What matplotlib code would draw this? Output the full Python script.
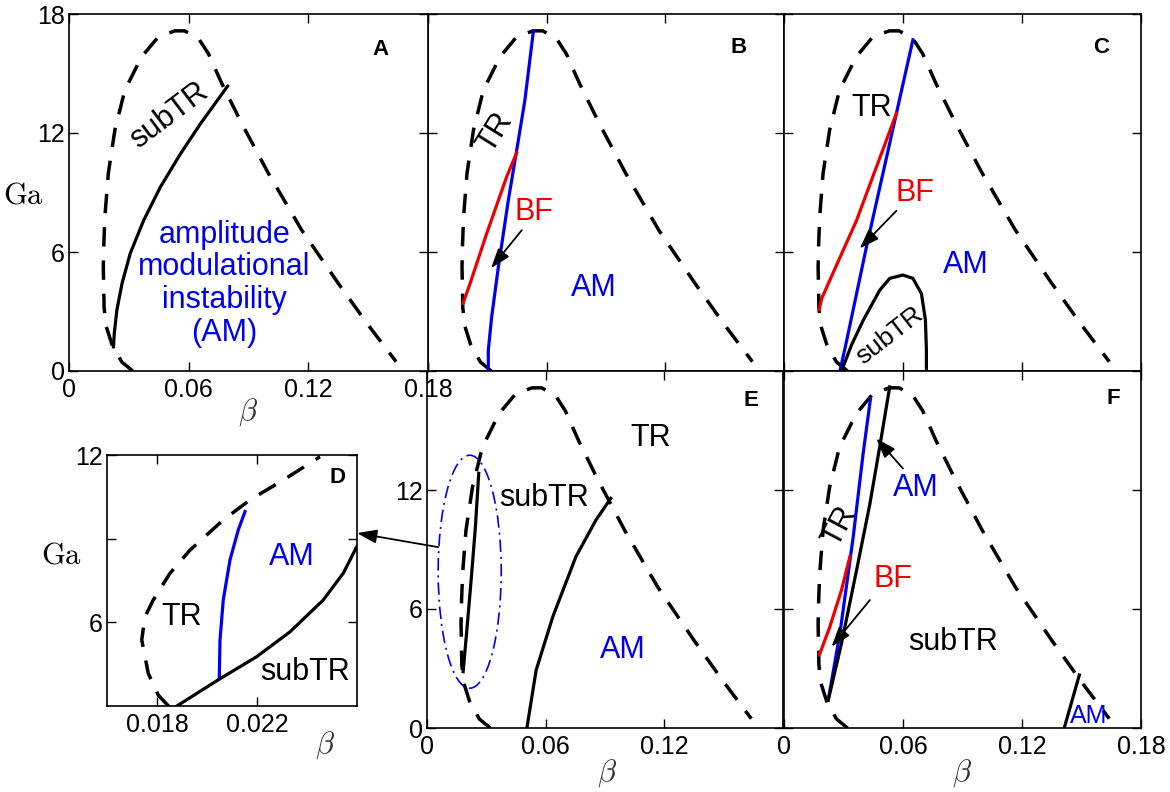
import matplotlib
matplotlib.use("Agg")
import matplotlib.pyplot as plt
from matplotlib.patches import Ellipse

# ---------------- data ----------------
# shared TR boundary (dashed)
tr_beta = [0.032, 0.0265, 0.0215, 0.0185, 0.0176, 0.0172, 0.0175, 0.018, 0.0197, 0.023, 0.028,
           0.0364, 0.0448, 0.0531, 0.058, 0.0649, 0.0699, 0.0766, 0.0866, 0.100, 0.1167, 0.135, 0.150, 0.164]
tr_ga = [0.0, 0.45, 1.35, 2.3, 3.2, 5.26, 6.5, 7.78, 9.96, 12.15, 14.16,
         15.84, 16.85, 17.15, 17.15, 16.77, 16.0, 14.5, 12.48, 9.96, 7.1, 4.42, 2.32, 0.47]

# panel A: subTR boundary
a_sub_beta = [0.0795, 0.066, 0.056, 0.0459, 0.0375, 0.0307, 0.0266, 0.024, 0.0227, 0.0223]
a_sub_ga = [14.36, 12.48, 10.97, 9.29, 7.61, 5.93, 4.42, 3.07, 1.9, 1.22]

# panel B
b_am_beta = [0.0305, 0.0305, 0.0322, 0.0356, 0.0406, 0.0448, 0.049, 0.0533]
b_am_ga = [0.0, 1.06, 2.74, 5.26, 8.6, 11.1, 13.66, 17.15]
b_bf_beta = [0.0177, 0.0213, 0.0297, 0.0398, 0.0448]
b_bf_ga = [3.41, 4.42, 6.94, 9.8, 11.0]

# panel C
c_am_beta = [0.0282, 0.0311, 0.0416, 0.065]
c_am_ga = [0.0, 1.3, 6.27, 16.7]
c_bf_beta = [0.0178, 0.019, 0.0366, 0.0567]
c_bf_ga = [3.1, 3.66, 7.6, 13.0]
c_sub_beta = [0.029, 0.034, 0.040, 0.0483, 0.0533, 0.060, 0.065, 0.0693, 0.0713, 0.0718, 0.0718]
c_sub_ga = [0.0, 1.3, 2.57, 4.08, 4.67, 4.84, 4.67, 3.9, 2.57, 1.06, 0.0]

# panel D (magnified)
d_tr_beta = [0.01848, 0.01805, 0.01765, 0.01739, 0.01752, 0.01785, 0.01852, 0.01932, 0.02065, 0.02172, 0.02305, 0.02452]
d_tr_ga = [2.98, 3.39, 4.17, 5.37, 6.2, 6.8, 7.76, 8.59, 9.67, 10.39, 11.1, 11.94]
d_am_beta = [0.02049, 0.02052, 0.02065, 0.02092, 0.02125, 0.02152]
d_am_ga = [3.99, 5.37, 6.8, 8.24, 9.31, 9.97]
d_sub_beta = [0.01876, 0.02049, 0.02199, 0.02332, 0.02465, 0.02545, 0.02599]
d_sub_ga = [2.98, 3.96, 4.77, 5.66, 6.8, 7.76, 8.71]

# panel E
e_sub_beta = [0.0505, 0.0552, 0.0636, 0.0753, 0.0854, 0.0929]
e_sub_ga = [0.0, 2.92, 5.61, 8.64, 10.48, 11.58]
e_in_beta = [0.01827, 0.02029, 0.02246, 0.02448, 0.02616]
e_in_ga = [2.84, 5.1, 7.63, 10.15, 12.84]
e_ell_center = (0.0216, 7.88)
e_ell_size = (0.0319, 11.75)

# panel F
f_am_beta = [0.0223, 0.0282, 0.0349, 0.0399, 0.0436]
f_am_ga = [1.41, 4.77, 9.64, 13.84, 16.6]
f_bf_beta = [0.0178, 0.0231, 0.029, 0.0332]
f_bf_ga = [3.68, 5.1, 6.96, 8.64]
f_sub_beta = [0.0223, 0.029, 0.0366, 0.0433, 0.0483, 0.0533]
f_sub_ga = [1.4, 4.27, 7.96, 11.3, 14.2, 17.2]
f_sub2_beta = [0.1413, 0.1489]
f_sub2_ga = [0.0, 2.67]

xticks_main = [0, 0.06, 0.12, 0.18]
yticks_main = [0, 6, 12, 18]
xtick_labels = ['0', '0.06', '0.12', '0.18']
ytick_labels = ['0', '6', '12', '18']
d_xticks = [0.018, 0.022]
d_xtick_labels = ['0.018', '0.022']
d_yticks = [6, 9, 12]
d_ytick_labels = ['6', '', '12']

# ---------------- style ----------------
plt.rcParams['font.family'] = ['Liberation Sans', 'DejaVu Sans']
plt.rcParams['mathtext.fontset'] = 'cm'
plt.rcParams['lines.scale_dashes'] = False

W, H = 1170, 792
fig = plt.figure(figsize=(W / 100, H / 100), dpi=100)

def rect(l, t, r, b):
    return [l / W, 1 - b / H, (r - l) / W, (b - t) / H]

DASH = (0, (14, 10))
LW = 2.3
BLUE = '#0000ee'
RED = '#ee0000'
TXT = 22
PL = 16  # panel letter size
TICK = 18

def setup(ax, xl, yl, xt, yt, xlab, ylab):
    ax.set_xlim(*xl)
    ax.set_ylim(*yl)
    ax.set_xticks(xt)
    ax.set_yticks(yt)
    ax.set_xticklabels(xlab)
    ax.set_yticklabels(ylab)
    ax.tick_params(direction='in', top=True, right=True, length=6.5, width=1.0,
                   labelsize=TICK)
    ax.tick_params(axis='x', pad=5)
    ax.tick_params(axis='y', pad=3)
    for s in ax.spines.values():
        s.set_linewidth(1.2)

def tr(ax):
    ax.plot(tr_beta, tr_ga, color='k', lw=LW + 0.2, linestyle=DASH)

AST = '-|>,head_length=1.2,head_width=0.42'

def arrow(ax, start, end):
    ax.annotate('', xy=end, xytext=start,
                arrowprops=dict(arrowstyle=AST, lw=1.3, color='k', shrinkA=0, shrinkB=0))

blank4 = ['', '', '', '']

# A
axA = fig.add_axes(rect(69, 14, 428, 371))
setup(axA, (0, 0.18), (0, 18), xticks_main, yticks_main, xtick_labels, ytick_labels)
axA.set_zorder(3)
tr(axA)
axA.plot(a_sub_beta, a_sub_ga, color='k', lw=LW)
axA.text(0.050, 12.9, 'subTR', fontsize=TXT, rotation=37, ha='center', va='center')
axA.text(0.078, 4.4, 'amplitude\nmodulational\ninstability\n(AM)', color=BLUE, fontsize=TXT,
         ha='center', va='center', linespacing=1.12)
axA.text(0.156, 16.2, 'A', fontsize=PL, fontweight='bold', ha='center', va='center')

# B
axB = fig.add_axes(rect(428, 14, 784, 371))
setup(axB, (0, 0.18), (0, 18), xticks_main, yticks_main, blank4, blank4)
tr(axB)
axB.plot(b_am_beta, b_am_ga, color=BLUE, lw=LW)
axB.plot(b_bf_beta, b_bf_ga, color=RED, lw=LW)
axB.text(0.0339, 12.0, 'TR', fontsize=TXT, rotation=58, ha='center', va='center')
axB.text(0.0535, 8.0, 'BF', color=RED, fontsize=TXT, ha='center', va='center')
axB.text(0.084, 4.2, 'AM', color=BLUE, fontsize=TXT, ha='center', va='center')
axB.text(0.157, 16.3, 'B', fontsize=PL, fontweight='bold', ha='center', va='center')
arrow(axB, (0.0474, 7.1), (0.0319, 5.19))

# C
axC = fig.add_axes(rect(784, 14, 1141, 371))
setup(axC, (0, 0.18), (0, 18), xticks_main, yticks_main, blank4, blank4)
tr(axC)
axC.plot(c_am_beta, c_am_ga, color=BLUE, lw=LW)
axC.plot(c_bf_beta, c_bf_ga, color=RED, lw=LW)
axC.plot(c_sub_beta, c_sub_ga, color='k', lw=LW)
axC.text(0.0441, 13.25, 'TR', fontsize=TXT, ha='center', va='center')
axC.text(0.066, 8.97, 'BF', color=RED, fontsize=TXT, ha='center', va='center')
axC.text(0.0919, 5.34, 'AM', color=BLUE, fontsize=TXT, ha='center', va='center')
axC.text(0.0535, 1.8, 'subTR', fontsize=19, rotation=38, ha='center', va='center')
axC.text(0.160, 16.3, 'C', fontsize=PL, fontweight='bold', ha='center', va='center')
arrow(axC, (0.0567, 8.08), (0.0382, 6.18))

# E
axE = fig.add_axes(rect(427, 371, 783, 728))
setup(axE, (0, 0.18), (0, 18), xticks_main, yticks_main,
      ['0', '0.06', '0.12', ''], ['0', '6', '12', ''])
tr(axE)
axE.plot(e_sub_beta, e_sub_ga, color='k', lw=LW)
axE.plot(e_in_beta, e_in_ga, color='k', lw=LW)
axE.add_patch(Ellipse(e_ell_center, e_ell_size[0], e_ell_size[1], fill=False,
                      edgecolor=BLUE, lw=1.2, linestyle=(0, (9, 3.5, 1.5, 3.5))))
axE.text(0.113, 14.6, 'TR', fontsize=TXT, ha='center', va='center')
axE.text(0.0594, 11.58, 'subTR', fontsize=TXT, ha='center', va='center')
axE.text(0.0988, 3.93, 'AM', color=BLUE, fontsize=TXT, ha='center', va='center')
axE.text(0.164, 16.5, 'E', fontsize=PL, fontweight='bold', ha='center', va='center')

# F
axF = fig.add_axes(rect(784, 371, 1141, 728))
setup(axF, (0, 0.18), (0, 18), xticks_main, yticks_main, xtick_labels, blank4)
tr(axF)
axF.plot(f_am_beta, f_am_ga, color=BLUE, lw=LW)
axF.plot(f_bf_beta, f_bf_ga, color=RED, lw=LW)
axF.plot(f_sub_beta, f_sub_ga, color='k', lw=LW)
axF.plot(f_sub2_beta, f_sub2_ga, color='k', lw=LW)
axF.text(0.0667, 12.08, 'AM', color=BLUE, fontsize=TXT, ha='center', va='center')
axF.text(0.0282, 10.15, 'TR', fontsize=TXT, rotation=62, ha='center', va='center')
axF.text(0.055, 7.5, 'BF', color=RED, fontsize=TXT, ha='center', va='center')
axF.text(0.0852, 4.35, 'subTR', fontsize=TXT, ha='center', va='center')
axF.text(0.1536, 0.6, 'AM', color=BLUE, fontsize=18, ha='center', va='center')
axF.text(0.166, 16.6, 'F', fontsize=PL, fontweight='bold', ha='center', va='center')
arrow(axF, (0.060, 13.08), (0.0466, 14.6))
arrow(axF, (0.0433, 6.45), (0.024, 4.1))

# D (magnified inset)
axD = fig.add_axes(rect(107, 455, 357, 706))
setup(axD, (0.016, 0.026), (3, 12), d_xticks, d_yticks, d_xtick_labels, d_ytick_labels)
axD.set_zorder(10)
axD.plot(d_tr_beta, d_tr_ga, color='k', lw=LW + 0.2, linestyle=DASH)
axD.plot(d_am_beta, d_am_ga, color=BLUE, lw=LW)
axD.plot(d_sub_beta, d_sub_ga, color='k', lw=LW)
axD.text(0.01899, 6.2, 'TR', fontsize=TXT, ha='center', va='center')
axD.text(0.02339, 8.36, 'AM', color=BLUE, fontsize=TXT, ha='center', va='center')
axD.text(0.02392, 4.23, 'subTR', fontsize=TXT, ha='center', va='center')
axD.text(0.02523, 11.2, 'D', fontsize=PL, fontweight='bold', ha='center', va='center')
axD.annotate('', xy=(0.026, 9.2), xycoords='data', xytext=(0.0056, 9.12),
             textcoords=axE.transData, annotation_clip=False,
             arrowprops=dict(arrowstyle=AST, lw=1.3, color='k', shrinkA=0, shrinkB=0))

# axis labels
fig.text(24 / W, 1 - 195 / H, r'$\mathrm{Ga}$', fontsize=22, ha='center', va='center')
fig.text(248 / W, 1 - 412 / H, r'$\beta$', fontsize=22, ha='center', va='center', color='#333333')
fig.text(62 / W, 1 - 555 / H, r'$\mathrm{Ga}$', fontsize=22, ha='center', va='center')
fig.text(325 / W, 1 - 745 / H, r'$\beta$', fontsize=22, ha='center', va='center', color='#333333')
fig.text(607 / W, 1 - 773 / H, r'$\beta$', fontsize=22, ha='center', va='center', color='#333333')
fig.text(962 / W, 1 - 773 / H, r'$\beta$', fontsize=22, ha='center', va='center', color='#333333')

fig.savefig('out.png', dpi=100)
